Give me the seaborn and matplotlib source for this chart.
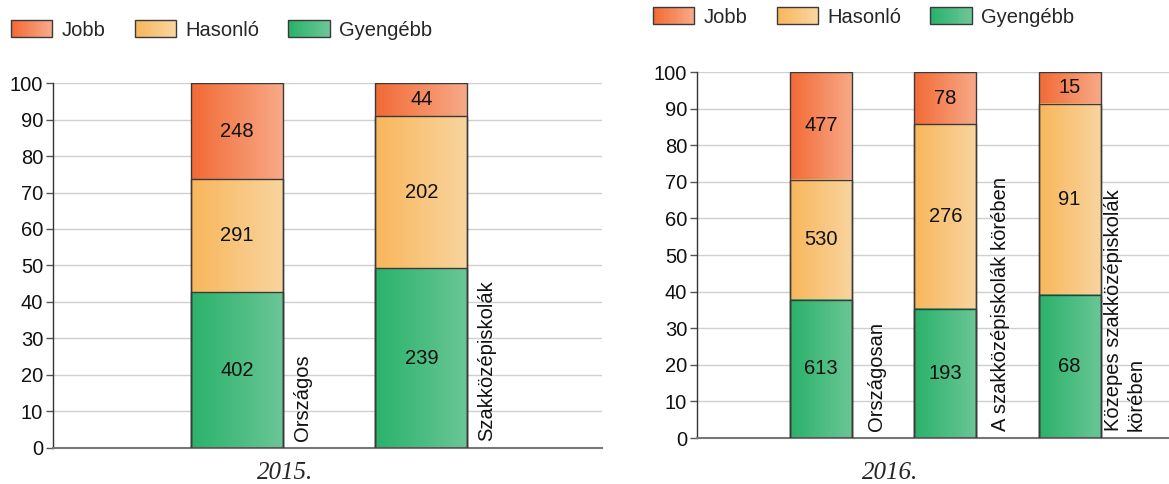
import numpy as np
import pandas as pd
import matplotlib
matplotlib.use("Agg")
import matplotlib.pyplot as plt
import seaborn as sns
from matplotlib.colors import LinearSegmentedColormap
from matplotlib.patches import Rectangle
from matplotlib.legend_handler import HandlerBase

# Data (counts)
series = ["Jobb", "Hasonló", "Gyengébb"]
years = ["2015.", "2016."]

cats_2015 = ["Országos", "Szakközépiskolák"]
jobb_2015 = [248, 44]
hasonlo_2015 = [291, 202]
gyengebb_2015 = [402, 239]

cats_2016 = ["Országosan", "A szakközépiskolák körében", "Közepes szakközépiskolák\nkörében"]
jobb_2016 = [477, 78, 15]
hasonlo_2016 = [530, 276, 91]
gyengebb_2016 = [613, 193, 68]

# left -> right gradient colours for each series
grad = {
    "Jobb": ("#F26A36", "#F8AA88"),
    "Hasonló": ("#F8B65B", "#F9D59F"),
    "Gyengébb": ("#2AB26A", "#6BC697"),
}
edge = "#3a3a3a"

sns.set_style("white")
plt.rcParams["font.family"] = ["Liberation Sans", "DejaVu Sans"]
plt.rcParams["font.size"] = 14


class GradientHandler(HandlerBase):
    def __init__(self, colors):
        super().__init__()
        self.cmap = LinearSegmentedColormap.from_list("g", colors)

    def create_artists(self, legend, orig_handle, xdescent, ydescent,
                       width, height, fontsize, trans):
        n = 30
        arts = []
        for j in range(n):
            arts.append(Rectangle((-xdescent + width * j / n, -ydescent), width / n * 1.1, height,
                                  facecolor=self.cmap(j / (n - 1)), edgecolor="none", transform=trans))
        arts.append(Rectangle((-xdescent, -ydescent), width, height, facecolor="none",
                              edgecolor=edge, lw=1, transform=trans))
        return arts


def draw_panel(ax, cats, jobb, hasonlo, gyengebb, xmax, label_dx):
    df = pd.DataFrame({"cat": cats, "Jobb": jobb, "Hasonló": hasonlo, "Gyengébb": gyengebb})
    pct = df[series].div(df[series].sum(axis=1), axis=0) * 100
    stack = ["Gyengébb", "Hasonló", "Jobb"]  # bottom -> top
    cum = pct[stack].cumsum(axis=1)
    order = [""] + cats

    # tallest cumulative bar first, lower ones drawn over it
    for k, name in enumerate(reversed(stack)):
        n0 = len(ax.patches)
        sns.barplot(x=df["cat"], y=cum[name], order=order, width=0.5, color=grad[name][0],
                    saturation=1, edgecolor=edge, linewidth=1, errorbar=None, ax=ax)
        cmap = LinearSegmentedColormap.from_list(name, grad[name])
        for p in ax.patches[n0:]:
            x0, w, h = p.get_x(), p.get_width(), p.get_height()
            ax.imshow(np.linspace(0, 1, 256)[None, :], cmap=cmap, extent=[x0, x0 + w, 0, h],
                      aspect="auto", zorder=1 + 0.1 * k, interpolation="bilinear")
            p.set_facecolor("none")
            p.set_zorder(3)

    # value labels and rotated category labels
    for i, cat in enumerate(cats):
        pos = order.index(cat)
        bottom = 0
        for name in stack:
            v = pct.loc[i, name]
            ax.text(pos, bottom + v / 2, str(df.loc[i, name]), ha="center", va="center",
                    fontsize=14.5, color="#111", zorder=4)
            bottom += v
        ax.text(pos + label_dx, 2, cat, rotation=90, ha="center", va="bottom",
                multialignment="left", fontsize=14.5, color="#111")

    ax.set_xlim(0, xmax)
    ax.set_ylim(0, 100)
    ax.set_yticks(range(0, 101, 10))
    ax.set_xticks([])
    ax.set_xlabel("")
    ax.set_ylabel("")
    ax.grid(axis="y", color="#d0d0d0", lw=1)
    ax.set_axisbelow(True)
    for s in ["top", "right"]:
        ax.spines[s].set_visible(False)
    ax.spines["left"].set_color("#333")
    ax.spines["left"].set_linewidth(1)
    ax.spines["bottom"].set_color("#777")
    ax.spines["bottom"].set_linewidth(1.5)
    ax.tick_params(axis="y", left=True, length=5, width=1, color="#555",
                   labelsize=14.5, labelcolor="#111", pad=2)


fig = plt.figure(figsize=(11.69, 4.84), dpi=100)
ax1 = fig.add_axes([0.0453, 0.0744, 0.4696, 0.7541])
ax2 = fig.add_axes([0.5962, 0.095, 0.4038, 0.7562])

draw_panel(ax1, cats_2015, jobb_2015, hasonlo_2015, gyengebb_2015, 2.98, 0.355)
draw_panel(ax2, cats_2016, jobb_2016, hasonlo_2016, gyengebb_2016, 3.8, 0.445)

# legends
for x0, y0 in [(11 / 1169, 1 - 30 / 484), (653 / 1169, 1 - 17 / 484)]:
    handles = [Rectangle((0, 0), 1, 1) for _ in series]
    hmap = {h: GradientHandler(grad[name]) for h, name in zip(handles, series)}
    fig.legend(handles, series, handler_map=hmap, loc="center left", bbox_to_anchor=(x0, y0),
               ncol=3, frameon=False, handlelength=2.06, handleheight=0.88, handletextpad=0.46,
               columnspacing=1.44, borderpad=0, borderaxespad=0, fontsize=14.5)

# year captions
fig.text(285 / 1169, 1 - 473 / 484, years[0], family="Liberation Serif", style="italic",
         fontsize=18, ha="center", va="center")
fig.text(890 / 1169, 1 - 473 / 484, years[1], family="Liberation Serif", style="italic",
         fontsize=18, ha="center", va="center")

fig.savefig("out.png", dpi=100)
